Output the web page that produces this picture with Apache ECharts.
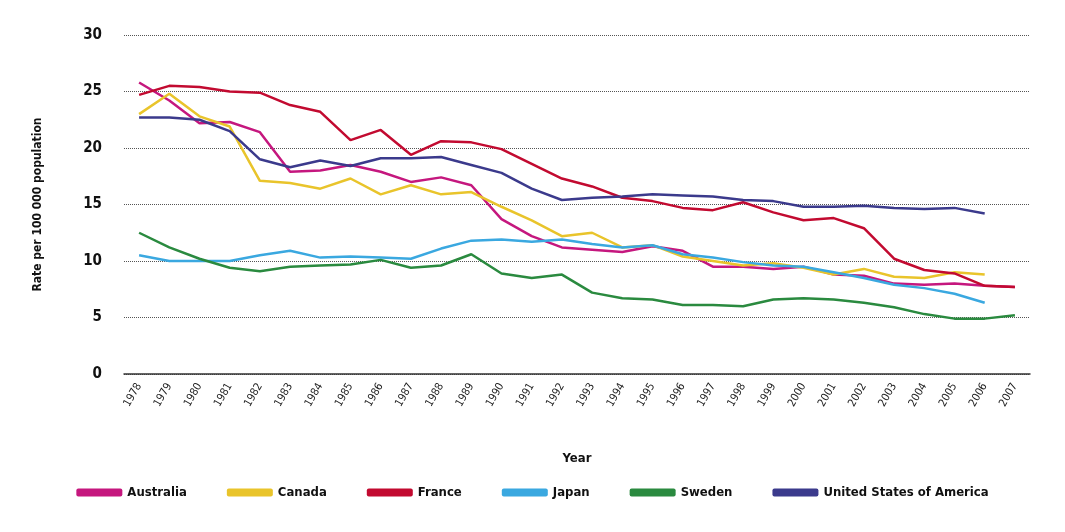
<!DOCTYPE html>
<html><head><meta charset="utf-8">
<script src="https://cdn.jsdelivr.net/npm/echarts@6/dist/echarts.min.js"></script>
<style>body{margin:0}#main{width:1065px;height:532px}</style>
</head><body><div id="main"></div>
<script>
const years = [];
for (let y = 1978; y <= 2007; y++) years.push(String(y));
const australia = [25.8,24.2,22.2,22.3,21.4,17.9,18.0,18.5,17.9,17.0,17.4,16.7,13.7,12.2,11.2,11.0,10.8,11.3,10.9,9.5,9.5,9.3,9.5,8.8,8.7,8.0,7.9,8.0,7.8,7.7];
const canada = [23.0,24.8,22.8,21.9,17.1,16.9,16.4,17.3,15.9,16.7,15.9,16.1,14.8,13.6,12.2,12.5,11.2,11.4,10.4,10.0,9.6,9.8,9.4,8.8,9.3,8.6,8.5,9.0,8.8];
const france = [24.7,25.5,25.4,25.0,24.9,23.8,23.2,20.7,21.6,19.4,20.6,20.5,19.9,18.6,17.3,16.6,15.6,15.3,14.7,14.5,15.2,14.3,13.6,13.8,12.9,10.2,9.2,8.9,7.8,7.7];
const japan = [10.5,10.0,10.0,10.0,10.5,10.9,10.3,10.4,10.3,10.2,11.1,11.8,11.9,11.7,11.9,11.5,11.2,11.4,10.6,10.3,9.9,9.6,9.5,9.0,8.5,7.9,7.6,7.1,6.3];
const sweden = [12.5,11.2,10.2,9.4,9.1,9.5,9.6,9.7,10.1,9.4,9.6,10.6,8.9,8.5,8.8,7.2,6.7,6.6,6.1,6.1,6.0,6.6,6.7,6.6,6.3,5.9,5.3,4.9,4.9,5.2];
const usa = [22.7,22.7,22.5,21.5,19.0,18.3,18.9,18.4,19.1,19.1,19.2,18.5,17.8,16.4,15.4,15.6,15.7,15.9,15.8,15.7,15.4,15.3,14.8,14.8,14.9,14.7,14.6,14.7,14.2];
const names = ['Australia','Canada','France','Japan','Sweden','United States of America'];
const colors = ['#c5177e','#e9c42b','#c20a30','#3aa8e0','#2a8a3f','#3b3a8c'];
const datas = [australia, canada, france, japan, sweden, usa];

const font = '"Liberation Sans Narrow", "DejaVu Sans Condensed", sans-serif';
const chart = echarts.init(document.getElementById('main'));
chart.setOption({
  color: colors,
  textStyle: {fontFamily: font, color: '#111'},
  legend: {
    bottom: 28, left: 'center', itemWidth: 46, itemHeight: 8, itemGap: 40,
    icon: 'roundRect',
    textStyle: {fontFamily: font, fontWeight: 'bold', fontSize: 13, color: '#111'},
    data: names
  },
  grid: {left: 124, right: 35, top: 35, bottom: 158},
  xAxis: {
    type: 'category', data: years, boundaryGap: true,
    name: 'Year', nameLocation: 'middle', nameGap: 78,
    nameTextStyle: {fontFamily: font, fontWeight: 'bold', fontSize: 13, color: '#111'},
    axisLine: {lineStyle: {color: '#333', width: 1.5}},
    axisTick: {show: false},
    axisLabel: {rotate: 60, fontSize: 11, color: '#222', fontFamily: font, interval: 0, margin: 10},
  },
  yAxis: {
    type: 'value', min: 0, max: 30, interval: 5,
    name: 'Rate per 100 000 population', nameLocation: 'middle', nameGap: 80, nameRotate: 90,
    nameTextStyle: {fontFamily: font, fontWeight: 'bold', fontSize: 12, color: '#111'},
    axisLine: {show: false}, axisTick: {show: false},
    axisLabel: {fontSize: 15, color: '#111', fontFamily: font, fontWeight: 'bold', margin: 22},
    splitLine: {lineStyle: {type: 'dotted', color: '#555'}}
  },
  series: datas.map((d, i) => ({
    name: names[i], type: 'line', data: d, symbol: 'none',
    lineStyle: {width: 2.5}
  }))
});
</script></body></html>
